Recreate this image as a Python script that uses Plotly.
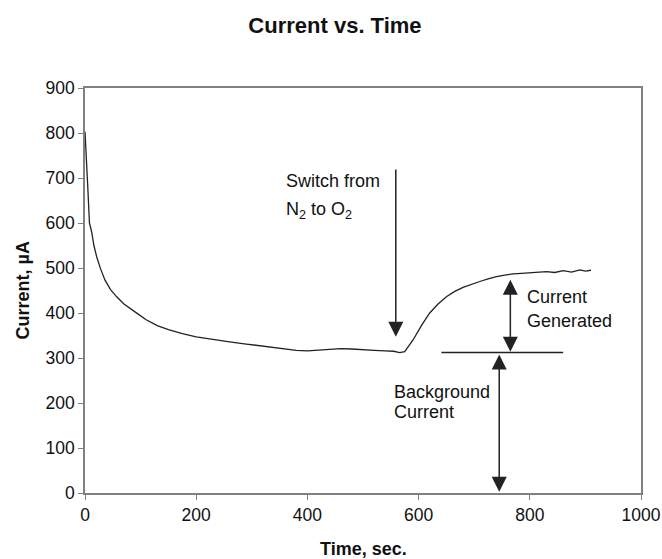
import plotly.graph_objects as go

# Data
time_s = [0, 2, 5, 8, 12, 16, 21, 28, 36, 46, 57, 70, 81, 95, 110, 130, 150, 175, 200,
          230, 260, 290, 320, 350, 380, 400, 420, 440, 460, 480, 500, 520, 540, 555,
          566, 575, 590, 605, 620, 635, 650, 665, 680, 695, 710, 725, 740, 755, 770,
          785, 800, 815, 830, 845, 860, 875, 890, 900, 910]
current_uA = [803, 760, 680, 600, 580, 550, 525, 498, 473, 452, 436, 420, 411, 398, 385,
              372, 363, 354, 347, 341, 336, 331, 326, 321, 317, 316, 318, 320, 321, 320,
              318, 317, 316, 315, 312, 314, 340, 372, 400, 420, 436, 448, 457, 464, 470,
              476, 481, 484, 487, 488, 489, 491, 492, 490, 494, 491, 496, 493, 495]

x_ticks = [0, 200, 400, 600, 800, 1000]
y_ticks = [0, 100, 200, 300, 400, 500, 600, 700, 800, 900]

FONT = "Liberation Sans, Arial, sans-serif"
AX = "#808080"

fig = go.Figure()
fig.add_trace(go.Scatter(x=time_s, y=current_uA, mode="lines",
                         line=dict(color="#222222", width=1.3), showlegend=False,
                         hoverinfo="skip"))

axis_common = dict(showgrid=False, zeroline=False, showline=True, linecolor=AX,
                   linewidth=1.5, mirror=True, ticks="outside", ticklen=5,
                   tickcolor=AX, tickwidth=1.2, automargin=False,
                   tickfont=dict(family=FONT, size=17.5, color="#111111"))

fig.update_xaxes(range=[0, 1000], tickvals=x_ticks, **axis_common)
fig.update_yaxes(range=[0, 900], tickvals=y_ticks, **axis_common)

# Axis titles (placed in plot-relative paper coordinates)
fig.add_annotation(text="<b>Time, sec.</b>", xref="paper", yref="paper",
                   x=0.5, y=-(549 - 493) / 405, showarrow=False,
                   xanchor="center", yanchor="middle",
                   font=dict(family=FONT, size=18, color="#111111"))
fig.add_annotation(text="<b>Current, µA</b>", xref="paper", yref="paper",
                   x=(22 - 85) / 556, y=0.5, showarrow=False, textangle=-90,
                   xanchor="center", yanchor="middle",
                   font=dict(family=FONT, size=18, color="#111111"))

txt = dict(family=FONT, size=18, color="#111111")
arrow = dict(showarrow=True, axref="x", ayref="y", arrowcolor="#222222",
             arrowwidth=1.5, arrowhead=2, arrowsize=2, text="")

# Switch arrow
fig.add_annotation(x=559, y=347, ax=559, ay=722, **arrow)
# Current generated double arrow
fig.add_annotation(x=765, y=314, ax=765, ay=477, arrowside="end+start", **arrow)
# Background current double arrow
fig.add_annotation(x=745, y=3, ax=745, ay=311, arrowside="end+start", **arrow)

fig.add_shape(type="line", x0=641, x1=860, y0=312, y1=312, xref="x", yref="y",
              line=dict(color="#222222", width=1.5))

labels = [
    ("Switch from", 358, 693),
    ("N<sub>2</sub> to O<sub>2</sub>", 358, 627),
    ("Current", 791, 436),
    ("Generated", 791, 383),
    ("Background", 553, 225),
    ("Current", 553, 181),
]
for t, xv, yv in labels:
    fig.add_annotation(x=xv, y=yv, text=t, showarrow=False, xanchor="left",
                       yanchor="middle", font=txt, align="left")

fig.update_layout(
    width=662, height=559,
    margin=dict(l=85, r=21, t=88, b=66),
    paper_bgcolor="white", plot_bgcolor="white",
    title=dict(text="<b>Current vs. Time</b>", x=0.506, xref="container",
               xanchor="center", y=1 - 25 / 559, yref="container", yanchor="middle",
               font=dict(family=FONT, size=22, color="#111111")),
)

fig.write_html("out.html")
